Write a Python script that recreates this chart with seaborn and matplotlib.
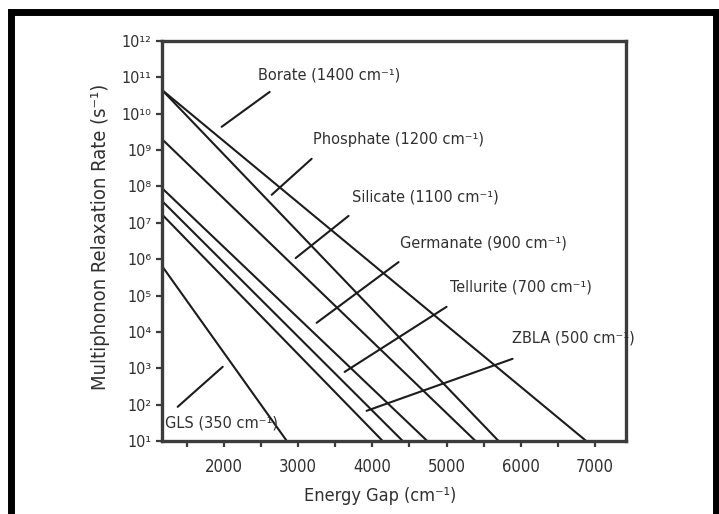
import matplotlib
matplotlib.use("Agg")
import numpy as np
import pandas as pd
import matplotlib.pyplot as plt
import seaborn as sns
from matplotlib.ticker import FixedLocator, FuncFormatter, NullLocator
from matplotlib.patches import Rectangle

# Multiphonon relaxation rate vs energy gap for several glass hosts
glasses = ["Borate", "Phosphate", "Silicate", "Germanate", "Tellurite", "ZBLA", "GLS"]
phonon_energy = [1400, 1200, 1100, 900, 700, 500, 350]   # cm^-1
gap_min = 1170                                           # cm^-1, left end of every line
rate_at_gap_min = [4.5e10, 4.5e10, 2.0e9, 9.0e7, 4.0e7, 1.7e7, 6.5e5]   # s^-1
rate_floor = 10                                          # s^-1, right end of every line
gap_at_rate_floor = [6880, 5700, 5390, 4740, 4410, 4140, 2850]          # cm^-1

x_major = [2000, 3000, 4000, 5000, 6000, 7000]
x_minor = [1500, 2500, 3500, 4500, 5500, 6500]
y_exponents = list(range(1, 13))

# label anchors (left edge, vertical centre) and pointer segments, in data units
label_xy = [(2457, 10**11.07), (3197, 10**9.28), (3722, 10**7.71), (4368, 10**6.45),
            (5040, 10**5.24), (5874, 10**3.83), (1206, 10**1.50)]
pointer_start = [(2619, 10**10.60), (3184, 10**8.76), (3681, 10**7.19), (4354, 10**5.92),
                 (5000, 10**4.69), (5888, 10**3.26), (1987, 10**3.04)]
pointer_end = [(1973, 10**9.64), (2646, 10**7.77), (2969, 10**6.03), (3251, 10**4.25),
               (3628, 10**2.90), (3924, 10**1.83), (1381, 10**1.94)]

SUP = str.maketrans("0123456789-", "⁰¹²³⁴⁵⁶⁷⁸⁹⁻")

rows = []
for name, r0, g1 in zip(glasses, rate_at_gap_min, gap_at_rate_floor):
    rows.append({"glass": name, "gap": gap_min, "rate": r0})
    rows.append({"glass": name, "gap": g1, "rate": rate_floor})
df = pd.DataFrame(rows)

sns.set_style("ticks")
plt.rcParams["font.family"] = ["DejaVu Sans"]
plt.rcParams["font.stretch"] = "condensed"

ink = "#1c1c1c"
frame = "#3c3c3c"
text_col = "#303030"

fig = plt.figure(figsize=(7.19, 5.14), dpi=100)
ax = fig.add_axes([162 / 719, 1 - 441 / 514, (626 - 162) / 719, 400 / 514])

sns.lineplot(data=df, x="gap", y="rate", hue="glass", palette=[ink] * len(glasses),
             sort=False, estimator=None, legend=False, linewidth=1.5, ax=ax)

ax.set_yscale("log")
ax.set_xlim(gap_min, 7415)
ax.set_ylim(10 ** y_exponents[0], 10 ** y_exponents[-1])

ax.xaxis.set_major_locator(FixedLocator(x_major))
ax.xaxis.set_minor_locator(FixedLocator(x_minor))
ax.xaxis.set_major_formatter(FuncFormatter(lambda v, p: f"{v:.0f}"))
ax.yaxis.set_major_locator(FixedLocator([10.0 ** e for e in y_exponents]))
ax.yaxis.set_minor_locator(NullLocator())
ax.yaxis.set_major_formatter(
    FuncFormatter(lambda v, p: "10" + str(int(round(np.log10(v)))).translate(SUP)))

for side in ["left", "right", "top", "bottom"]:
    ax.spines[side].set_visible(True)
    ax.spines[side].set_color(frame)
    ax.spines[side].set_linewidth(2.4)

ax.tick_params(axis="both", which="both", direction="out", color=frame,
               width=1.6, length=4.5, labelcolor=text_col)
ax.tick_params(axis="x", which="both", pad=8, labelsize=12)
ax.tick_params(axis="y", which="both", pad=3, labelsize=11.5)
ax.tick_params(top=False, right=False)

ax.set_xlabel("Energy Gap (cm⁻¹)", fontsize=13, color=text_col)
ax.set_ylabel("Multiphonon Relaxation Rate (s⁻¹)", fontsize=14.5, color=text_col)
ax.xaxis.set_label_coords(0.47, -0.115)
ax.yaxis.set_label_coords(-0.112, 0.51)

for name, e, lxy, p0, p1 in zip(glasses, phonon_energy, label_xy, pointer_start, pointer_end):
    ax.text(lxy[0], lxy[1], f"{name} ({e} cm⁻¹)", fontsize=11.7, color=text_col,
            ha="left", va="center", clip_on=False)
    ax.annotate("", xy=p1, xytext=p0,
                arrowprops=dict(arrowstyle="-", color=ink, lw=1.5,
                                shrinkA=0, shrinkB=0))

# heavy black border around the figure
fig.patches.append(Rectangle((10.5 / 719, -0.1), (715.5 - 10.5) / 719, 1.1 - 12.5 / 514,
                             transform=fig.transFigure, fill=False, edgecolor="black",
                             linewidth=5.0, clip_on=False))

fig.savefig("out.png", dpi=100, facecolor="white")
